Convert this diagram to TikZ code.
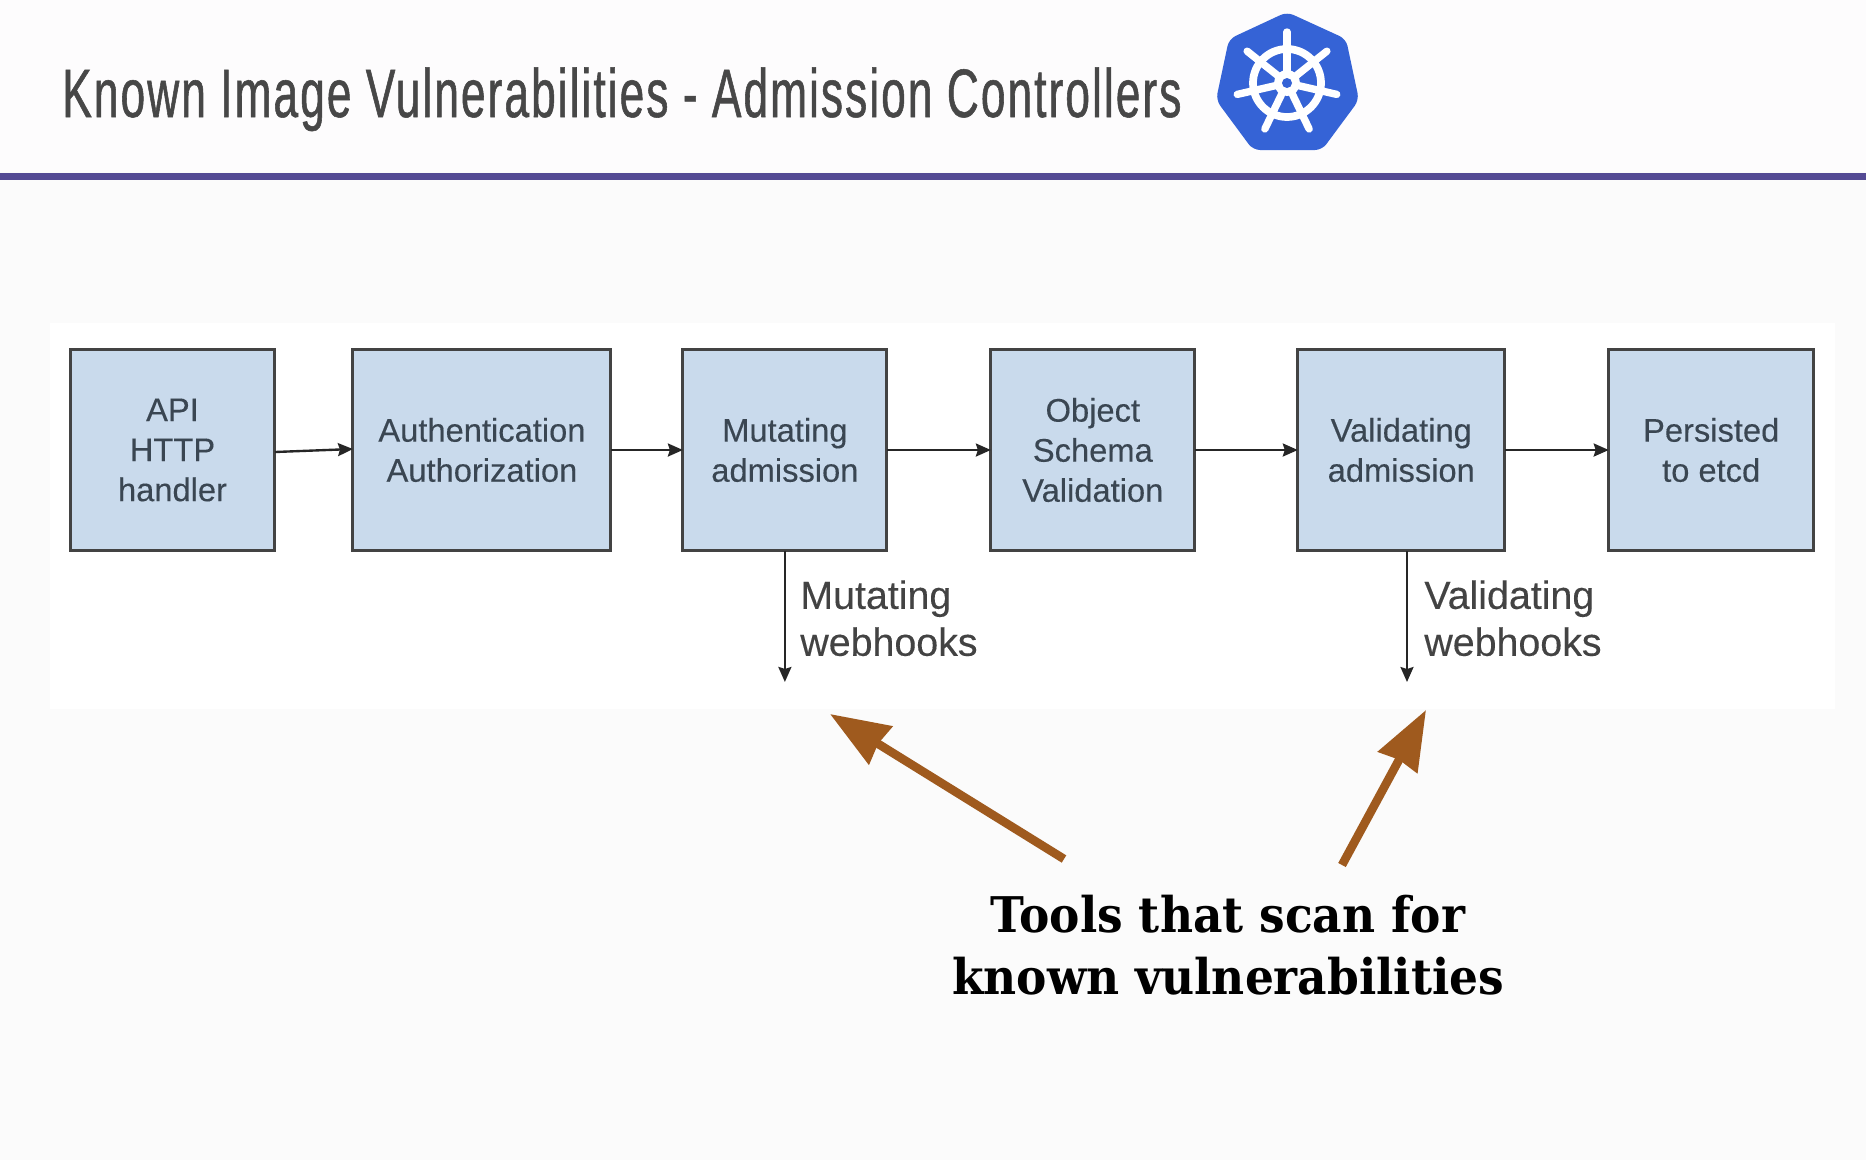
\documentclass[tikz,border=0pt]{standalone}
\usepackage{xcolor}
\usepackage{fontspec}
\setmainfont[FakeBold=0.25]{Liberation Sans}
\newfontfamily\titlefont[FakeStretch=0.646,FakeBold=0.8,LetterSpace=3]{Liberation Sans}
\newfontfamily\slabfont[FakeStretch=0.925]{DejaVu Serif}
\definecolor{pagegray}{HTML}{FBFBFB}
\definecolor{headgray}{HTML}{FDFCFD}
\definecolor{boxblue}{HTML}{C9DAEC}
\definecolor{boxline}{HTML}{434343}
\definecolor{boxtext}{HTML}{3A4652}
\definecolor{barpurple}{HTML}{544A94}
\definecolor{logoblue}{HTML}{3563D6}
\definecolor{arrowbrown}{HTML}{9F5A1E}
\usetikzlibrary{arrows.meta,positioning}
\begin{document}
\begin{tikzpicture}[
  x=0.02cm, y=-0.02cm,
  stagebox/.style={draw=boxline, fill=boxblue, line width=1.7pt, align=center, outer sep=0pt,
                   inner sep=0pt, minimum width=4.08cm, minimum height=4.04cm,
                   text=boxtext, font=\fontsize{18.6}{22.8}\selectfont},
  hooklabel/.style={align=left, anchor=north west, inner sep=0pt, text=boxline,
                    font=\fontsize{22.4}{26.7}\selectfont},
  arr/.style={-{Stealth[length=3mm,width=2.6mm,inset=0.4mm]}, line width=1.35pt, draw=black!85},
  callout/.style={-{Stealth[length=11.8mm,width=8.7mm,inset=0.5mm]}, line width=4.9pt, draw=arrowbrown}
]
\useasboundingbox (0,0) rectangle (1866,1160);
\fill[pagegray] (0,0) rectangle (1866,1160);
\fill[headgray] (0,0) rectangle (1866,172);
\fill[white] (50,323) rectangle (1835,709);
\fill[barpurple] (0,173) rectangle (1866,180);
\node[anchor=base west, inner sep=0pt, text=black!72, font=\titlefont\fontsize{39}{44}\selectfont] (title) at (62,117)
  {Known Image Vulnerabilities - Admission Controllers};
% logo
\fill[logoblue, rounded corners=4pt] (1287,12) -- (1346,39) -- (1359,100) -- (1322,150) -- (1253,150) -- (1216,100) -- (1229,39) -- cycle;
\draw[white, line width=4.4pt] (1287,83) circle (34);
\foreach \a in {90,141.4,192.9,244.3,295.7,347.1,38.6}
  \draw[white, line width=4.2pt, line cap=round] (1287,83) -- ++(\a:51 and -51);
\fill[white] (1287,83) circle (13);
\fill[logoblue] (1287,83) circle (5);
% boxes
\node[stagebox, minimum width=4.1cm] (api) at (172.5,450) {API\\HTTP\\handler};
\node[stagebox, minimum width=5.16cm, right=1.56cm of api] (auth) {Authentication\\Authorization};
\node[stagebox, right=1.44cm of auth] (mut) {Mutating\\admission};
\node[stagebox, right=2.08cm of mut] (obj) {Object\\Schema\\Validation};
\node[stagebox, minimum width=4.14cm, right=2.06cm of obj] (val) {Validating\\admission};
\node[stagebox, minimum width=4.1cm, right=2.08cm of val] (etcd) {Persisted\\to etcd};
\coordinate[below=2.62cm of mut.south] (mutend);
\coordinate (valstart) at (1407,551);
\coordinate (valend) at (1407,682);
\draw[arr] ([yshift=-0.04cm]api.east) -- ([yshift=0.02cm]auth.west);
\draw[arr] (auth) -- (mut);
\draw[arr] (mut) -- (obj);
\draw[arr] (obj) -- (val);
\draw[arr] (val) -- (etcd);
\draw[arr] (mut.south) -- (mutend);
\draw[arr] (valstart) -- (valend);
\node[hooklabel] (mutlabel) at (800,580) {Mutating\\webhooks};
\node[hooklabel] (vallabel) at (1424,580) {Validating\\webhooks};
% callout
\node[align=center, inner sep=0pt, text=black, font=\slabfont\bfseries\fontsize{28}{35.5}\selectfont] (tools) at (1228,945)
  {Tools that scan for\\known vulnerabilities};
\coordinate (lefttail) at (1064,859);
\coordinate (lefttip) at (830,714);
\coordinate (righttail) at (1342,865);
\coordinate (righttip) at (1426,710);
\draw[callout] (lefttail) -- (lefttip);
\draw[callout] (righttail) -- (righttip);
\end{tikzpicture}
\end{document}
